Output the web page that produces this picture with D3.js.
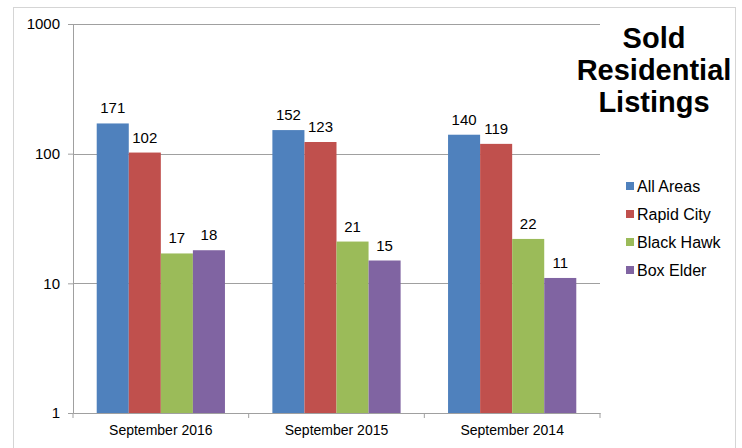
<!DOCTYPE html>
<html>
<head>
<meta charset="utf-8">
<script src="https://cdn.jsdelivr.net/npm/d3@7"></script>
<style>
  body { margin: 0; background: #fff; }
  svg { font-family: "Liberation Sans", Arial, sans-serif; }
</style>
</head>
<body>
<div id="chart"></div>
<script>
// data
var categories = ["September 2016", "September 2015", "September 2014"];
var seriesNames = ["All Areas", "Rapid City", "Black Hawk", "Box Elder"];
var allAreas = [171, 152, 140];
var rapidCity = [102, 123, 119];
var blackHawk = [17, 21, 22];
var boxElder = [18, 15, 11];
var yTicks = [1, 10, 100, 1000];
var colors = ["#4F81BD", "#C0504D", "#9BBB59", "#8064A2"];
var titleLines = ["Sold", "Residential", "Listings"];

function drawChart() {
    var values = [allAreas, rapidCity, blackHawk, boxElder];
    var W = 742, H = 448;
    var margin = { top: 24, left: 73 },
        width = 527,
        height = 389;

    var svg = d3.select("#chart")
        .append("svg")
        .attr("width", W)
        .attr("height", H);

    // chart border
    svg.append("rect")
        .attr("x", 13.5).attr("y", 7.5)
        .attr("width", 722).attr("height", 460)
        .attr("fill", "none")
        .attr("stroke", "#aaa")
        .attr("stroke-dasharray", "1,1");

    var g = svg.append("g")
        .attr("transform", "translate(" + margin.left + "," + margin.top + ")");

    var x = d3.scaleBand()
        .domain(categories)
        .range([0, width])
        .paddingInner(0.27)
        .paddingOuter(0.135);

    var xs = d3.scaleBand()
        .domain(seriesNames)
        .range([0, x.bandwidth()]);

    var y = d3.scaleLog()
        .domain([1, 1000])
        .range([height, 0]);

    // gridlines
    g.append("g")
        .selectAll("line")
        .data(yTicks.slice(1))
        .enter()
        .append("line")
        .attr("x1", 0).attr("x2", width)
        .attr("y1", function (d) { return Math.round(y(d)) + 0.5; })
        .attr("y2", function (d) { return Math.round(y(d)) + 0.5; })
        .attr("stroke", "#a0a0a0");

    // bars
    var groups = g.append("g")
        .selectAll("g")
        .data(seriesNames)
        .enter()
        .append("g")
        .attr("fill", function (d, i) { return colors[i]; });

    groups.selectAll("rect")
        .data(function (s, i) { return values[i].map(function (v, j) { return { s: s, c: categories[j], v: v }; }); })
        .enter()
        .append("rect")
        .attr("x", function (d) { return x(d.c) + xs(d.s); })
        .attr("y", function (d) { return y(d.v); })
        .attr("width", xs.bandwidth())
        .attr("height", function (d) { return height - y(d.v); });

    // value labels
    groups.selectAll("text")
        .data(function (s, i) { return values[i].map(function (v, j) { return { s: s, c: categories[j], v: v }; }); })
        .enter()
        .append("text")
        .attr("x", function (d) { return x(d.c) + xs(d.s) + xs.bandwidth() / 2; })
        .attr("y", function (d) { return y(d.v) - 10; })
        .attr("text-anchor", "middle")
        .attr("fill", "#000")
        .style("font-size", "15px")
        .text(function (d) { return d.v; });

    // y axis
    var yAxis = g.append("g")
        .call(d3.axisLeft(y)
            .tickValues(yTicks)
            .tickFormat(d3.format("d"))
            .tickSize(5)
            .tickPadding(8));
    yAxis.selectAll("path, line").attr("stroke", "#a0a0a0");
    yAxis.selectAll("text").style("font-size", "15px").attr("fill", "#000");
    yAxis.attr("font-family", null);

    // x axis
    var xAxis = g.append("g")
        .attr("transform", "translate(0," + height + ")")
        .call(d3.axisBottom(x).tickSize(0).tickPadding(12));
    xAxis.select("path").attr("stroke", "#a0a0a0");
    xAxis.selectAll("text").style("font-size", "14px").attr("fill", "#000");
    xAxis.attr("font-family", null);

    // category separators
    g.append("g")
        .selectAll("line")
        .data(d3.range(categories.length + 1))
        .enter()
        .append("line")
        .attr("x1", function (i) { return i * width / categories.length; })
        .attr("x2", function (i) { return i * width / categories.length; })
        .attr("y1", height).attr("y2", height + 5)
        .attr("stroke", "#a0a0a0");

    // title
    svg.append("text")
        .attr("x", 654)
        .attr("y", 48)
        .attr("text-anchor", "middle")
        .style("font-size", "29px")
        .style("font-weight", "bold")
        .selectAll("tspan")
        .data(titleLines)
        .enter()
        .append("tspan")
        .attr("x", 654)
        .attr("dy", function (d, i) { return i === 0 ? 0 : 32; })
        .text(function (d) { return d; });

    // legend
    var legend = svg.append("g")
        .selectAll("g")
        .data(seriesNames)
        .enter()
        .append("g")
        .attr("transform", function (d, i) { return "translate(626," + (186 + i * 28) + ")"; });

    legend.append("rect")
        .attr("x", 0).attr("y", -4)
        .attr("width", 8).attr("height", 8)
        .attr("fill", function (d, i) { return colors[i]; });

    legend.append("text")
        .attr("x", 11)
        .attr("y", 6)
        .style("font-size", "16px")
        .text(function (d) { return d; });
}

drawChart();
</script>
</body>
</html>
